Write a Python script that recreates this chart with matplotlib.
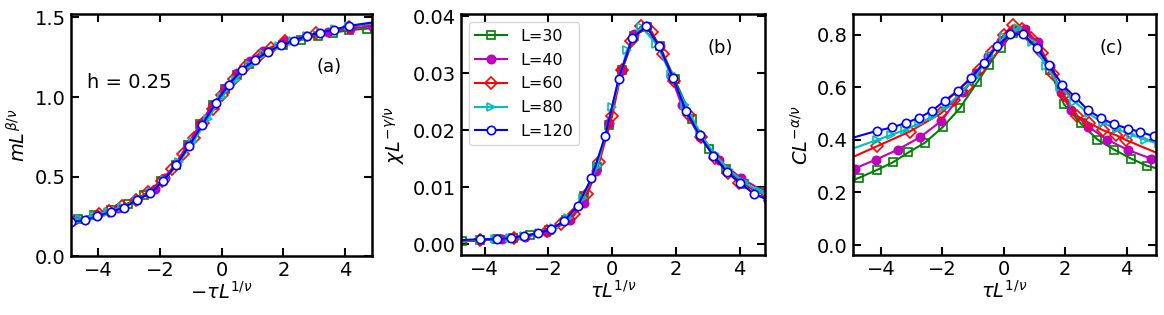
import matplotlib
matplotlib.use("Agg")
import matplotlib.pyplot as plt

plt.rcParams['font.family'] = ['DejaVu Sans']
plt.rcParams['mathtext.fontset'] = 'dejavusans'

# scaled variable tau*L^(1/nu) for each system size
x30 = [-5.3, -4.71, -4.14, -3.62, -3.11, -2.58, -1.99, -1.44, -0.87, -0.49, -0.1,
       0.3, 0.7, 1.1, 1.5, 1.96, 2.51, 3.05, 3.59, 4.14, 4.65, 5.2]
x40 = [-5.5, -4.86, -4.16, -3.45, -2.74, -2.04, -1.33, -0.9, -0.5, -0.1, 0.3,
       0.7, 1.1, 1.5, 1.85, 2.18, 2.75, 3.36, 4.05, 4.79, 5.4]
x60 = [-5.2, -4.14, -3.07, -2.05, -1.61, -1.2, -0.8, -0.4, 0.0, 0.3, 0.6,
       0.9, 1.25, 1.6, 1.95, 2.4, 2.78, 3.22, 3.65, 3.98, 5.2]
x80 = [-5.2, -4.14, -3.68, -3.22, -2.76, -2.3, -1.84, -1.38, -0.92, -0.46, 0.0,
       0.46, 0.92, 1.38, 1.84, 2.3, 2.76, 3.22, 3.68, 4.14, 4.6, 5.06]
x120 = [-5.3, -4.14, -3.63, -3.18, -2.77, -2.34, -1.93, -1.5, -1.08, -0.65, -0.22,
        0.2, 0.63, 1.07, 1.48, 1.91, 2.32, 2.75, 3.18, 3.6, 4.03, 4.44, 4.88, 5.3]

# (a) magnetization m L^(beta/nu)
m30 = [1.445, 1.43, 1.42, 1.405, 1.385, 1.36, 1.325, 1.28, 1.21, 1.14, 1.05,
       0.95, 0.83, 0.7, 0.575, 0.47, 0.385, 0.33, 0.29, 0.26, 0.235, 0.22]
m40 = [1.46, 1.445, 1.43, 1.41, 1.385, 1.35, 1.29, 1.225, 1.15, 1.055, 0.95,
       0.83, 0.7, 0.58, 0.49, 0.42, 0.35, 0.3, 0.26, 0.225, 0.21]
m60 = [1.47, 1.44, 1.4, 1.35, 1.31, 1.26, 1.195, 1.115, 1.01, 0.925, 0.835,
       0.74, 0.64, 0.55, 0.475, 0.4, 0.355, 0.315, 0.285, 0.265, 0.21]
m80 = [1.47, 1.445, 1.425, 1.405, 1.385, 1.355, 1.32, 1.27, 1.2, 1.11, 1.0,
       0.86, 0.72, 0.59, 0.48, 0.405, 0.35, 0.31, 0.28, 0.255, 0.235, 0.22]
m120 = [1.48, 1.448, 1.423, 1.404, 1.386, 1.354, 1.327, 1.285, 1.233, 1.17, 1.078,
        0.961, 0.826, 0.69, 0.571, 0.47, 0.397, 0.351, 0.305, 0.278, 0.251, 0.226, 0.215, 0.20]

# (b) susceptibility chi L^(-gamma/nu)
chi30 = [0.0004, 0.0005, 0.0007, 0.0009, 0.0011, 0.0016, 0.0025, 0.0043, 0.0085, 0.0135, 0.021,
         0.0305, 0.0365, 0.0381, 0.0347, 0.029, 0.022, 0.0168, 0.0132, 0.0106, 0.0092, 0.0082]
chi40 = [0.0004, 0.0005, 0.0007, 0.001, 0.0013, 0.0021, 0.0042, 0.0072, 0.0128, 0.0212, 0.0305,
         0.0368, 0.0382, 0.0347, 0.0295, 0.0245, 0.0188, 0.0147, 0.0116, 0.0092, 0.0082]
chi60 = [0.0004, 0.0007, 0.0011, 0.0023, 0.0035, 0.0053, 0.0088, 0.0145, 0.0225, 0.0305, 0.0357,
         0.0382, 0.0372, 0.0333, 0.0287, 0.0226, 0.0188, 0.0152, 0.0125, 0.0108, 0.0075]
chi80 = [0.0005, 0.0008, 0.0009, 0.0011, 0.0014, 0.0019, 0.0028, 0.0046, 0.0082, 0.0138, 0.024,
         0.034, 0.0381, 0.0352, 0.0298, 0.0245, 0.0195, 0.0158, 0.013, 0.0109, 0.0093, 0.008]
chi120 = [0.0006, 0.0009, 0.0009, 0.0011, 0.0015, 0.0019, 0.0026, 0.0041, 0.0068, 0.0116, 0.019,
          0.029, 0.0362, 0.0382, 0.0347, 0.0292, 0.0234, 0.0191, 0.0155, 0.0127, 0.0107, 0.0089, 0.0078, 0.0068]

# (c) specific heat C L^(-alpha/nu)
c30 = [0.23, 0.256, 0.285, 0.314, 0.352, 0.388, 0.448, 0.519, 0.618, 0.684, 0.75,
       0.805, 0.815, 0.755, 0.665, 0.535, 0.462, 0.401, 0.363, 0.329, 0.302, 0.285]
c40 = [0.26, 0.291, 0.325, 0.363, 0.409, 0.471, 0.582, 0.655, 0.72, 0.775, 0.815,
       0.82, 0.77, 0.68, 0.58, 0.513, 0.45, 0.401, 0.361, 0.329, 0.31]
c60 = [0.32, 0.375, 0.431, 0.5, 0.55, 0.6, 0.665, 0.735, 0.8, 0.835, 0.82,
       0.785, 0.73, 0.65, 0.57, 0.49, 0.464, 0.437, 0.418, 0.399, 0.34]
c80 = [0.355, 0.399, 0.418, 0.438, 0.462, 0.49, 0.53, 0.58, 0.64, 0.72, 0.79,
       0.825, 0.77, 0.68, 0.6, 0.545, 0.5, 0.465, 0.44, 0.42, 0.4, 0.385]
c120 = [0.395, 0.434, 0.447, 0.465, 0.483, 0.510, 0.548, 0.586, 0.633, 0.692, 0.755,
        0.801, 0.801, 0.749, 0.683, 0.608, 0.563, 0.512, 0.481, 0.459, 0.443, 0.430, 0.414, 0.405]

labels = ['L=30', 'L=40', 'L=60', 'L=80', 'L=120']
xs = [x30, x40, x60, x80, x120]
ms_ = [m30, m40, m60, m80, m120]
chis = [chi30, chi40, chi60, chi80, chi120]
cs = [c30, c40, c60, c80, c120]

styles = [
    dict(color='g', marker='s', mfc='none'),
    dict(color='m', marker='o', mfc='m'),
    dict(color='r', marker='D', mfc='none', ms=6),
    dict(color='c', marker='>', mfc='none'),
    dict(color='b', marker='o', mfc='white'),
]

fig = plt.figure(figsize=(11.64, 3.15), dpi=100)
ax1 = fig.add_axes([0.0607, 0.187, 0.2586, 0.7676])
ax2 = fig.add_axes([0.396, 0.19, 0.2612, 0.764])
ax3 = fig.add_axes([0.7326, 0.19, 0.2606, 0.764])

for x, m, chi, c, lab, st in zip(xs, ms_, chis, cs, labels, styles):
    kw = dict(lw=1.5, ms=6, mew=1.2)
    kw.update(st)
    ax1.plot([-v for v in x], m, **kw)
    ax2.plot(x, chi, label=lab, **kw)
    ax3.plot(x, c, **kw)

ax1.set_xlim(-4.9, 4.86)
ax1.set_ylim(0, 1.52)
ax1.set_yticks([0.0, 0.5, 1.0, 1.5])
ax1.set_xlabel(r'$-\tau L^{1/\nu}$', fontsize=14, labelpad=1)
ax1.set_ylabel(r'$mL^{\beta/\nu}$', fontsize=14)
ax1.text(0.054, 0.72, 'h = 0.25', transform=ax1.transAxes, fontsize=14, va='center')
ax1.text(0.858, 0.78, '(a)', transform=ax1.transAxes, fontsize=13, ha='center', va='center')

ax2.set_xlim(-4.75, 4.8)
ax2.set_ylim(-0.0019, 0.0403)
ax2.set_yticks([0.0, 0.01, 0.02, 0.03, 0.04])
ax2.set_xlabel(r'$\tau L^{1/\nu}$', fontsize=14, labelpad=1)
ax2.set_ylabel(r'$\chi L^{-\gamma/\nu}$', fontsize=14)
ax2.text(0.852, 0.859, '(b)', transform=ax2.transAxes, fontsize=13, ha='center', va='center')
ax2.legend(loc='upper left', fontsize=11.5, handlelength=2.0, labelspacing=0.55)

ax3.set_xlim(-4.92, 4.96)
ax3.set_ylim(-0.038, 0.876)
ax3.set_yticks([0.0, 0.2, 0.4, 0.6, 0.8])
ax3.set_xlabel(r'$\tau L^{1/\nu}$', fontsize=14, labelpad=1)
ax3.set_ylabel(r'$CL^{-\alpha/\nu}$', fontsize=14)
ax3.text(0.854, 0.859, '(c)', transform=ax3.transAxes, fontsize=13, ha='center', va='center')

for ax in (ax1, ax2, ax3):
    ax.set_xticks([-4, -2, 0, 2, 4])
    ax.tick_params(direction='in', top=True, right=True, length=6, width=1.5, labelsize=14)
    for sp in ax.spines.values():
        sp.set_linewidth(1.8)

fig.savefig('out.png', dpi=100)
